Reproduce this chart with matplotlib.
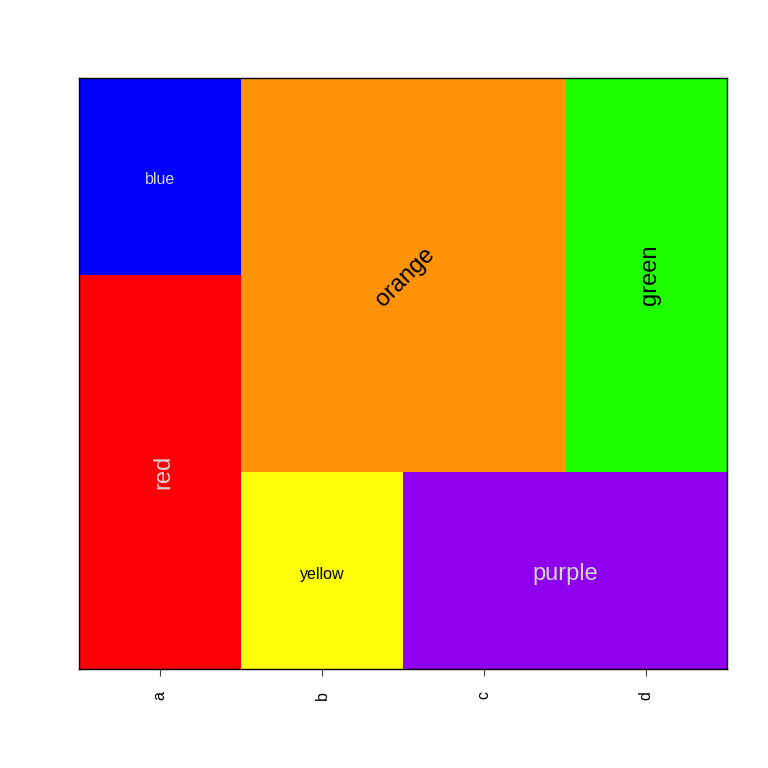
import numpy as np
import matplotlib.pyplot as plt

plt.rcParams['font.family'] = ['Liberation Sans', 'DejaVu Sans']

# grid columns and cell layout
columns = ['a', 'b', 'c', 'd']
labels = ['blue', 'red', 'orange', 'green', 'yellow', 'purple']
colors = ['#0000FF', '#FB0007', '#FF940B', '#1FFF00', '#FFFF0A', '#8F00EE']
col_start = [1, 1, 2, 4, 2, 3]
col_span = [1, 1, 2, 1, 1, 2]
row_start = [2, 0, 1, 1, 0, 0]
row_span = [1, 2, 2, 2, 1, 1]

# label styling
text_rot = [0, 90, 45, 90, 0, 0]
text_size = [11.5, 17, 17, 17, 11.5, 17]
text_col = ['#D3D3D3', '#D3D3D3', 'black', 'black', 'black', '#D3D3D3']

fig = plt.figure(figsize=(7.68, 7.68), dpi=100)
ax = fig.add_axes([79 / 768, 99 / 768, 648 / 768, 591 / 768])

for i, lab in enumerate(labels):
    xc = col_start[i] + (col_span[i] - 1) / 2
    ax.bar(xc, row_span[i], width=col_span[i], bottom=row_start[i],
           color=colors[i], edgecolor='none', align='center')
    yc = row_start[i] + row_span[i] / 2
    # nudge a little "down" in the text's own frame, like R does
    th = np.radians(text_rot[i])
    off = 3.5
    ax.annotate(lab, (xc, yc), xytext=(off * np.sin(th), -off * np.cos(th)),
                textcoords='offset pixels', rotation=text_rot[i],
                fontsize=text_size[i], color=text_col[i],
                ha='center', va='center', rotation_mode='anchor')

ax.set_xlim(0.5, 4.5)
ax.set_ylim(0, 3)
ax.set_xticks(range(1, len(columns) + 1))
ax.set_xticklabels(columns, rotation=90, fontsize=11.5)
ax.set_yticks([])
ax.tick_params(axis='x', length=5, pad=11, color='#444444')
for s in ax.spines.values():
    s.set_linewidth(1)

fig.savefig('out.png', dpi=100)
